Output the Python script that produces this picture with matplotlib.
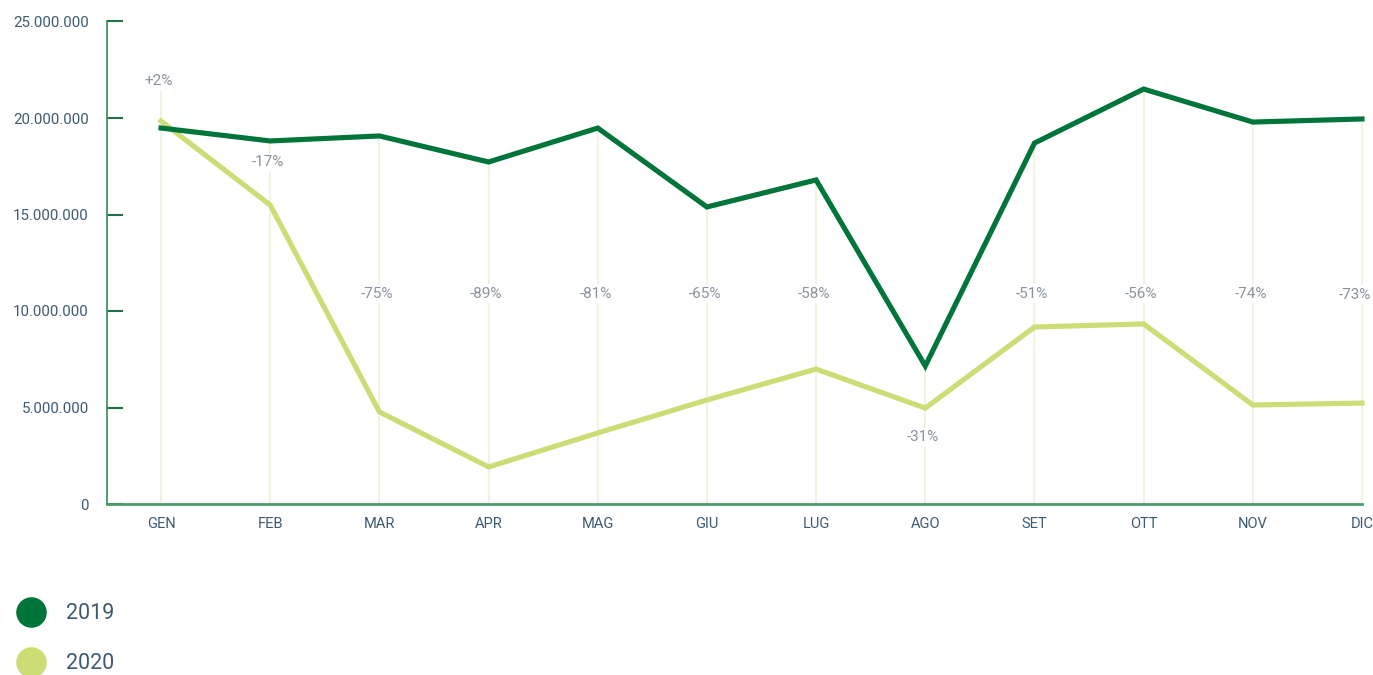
import matplotlib
matplotlib.use("Agg")
import matplotlib.pyplot as plt
from matplotlib.lines import Line2D

months = ["GEN", "FEB", "MAR", "APR", "MAG", "GIU", "LUG", "AGO", "SET", "OTT", "NOV", "DIC"]
values_2019 = [19.48e6, 18.81e6, 19.07e6, 17.72e6, 19.48e6, 15.39e6, 16.79e6, 7.15e6, 18.70e6, 21.50e6, 19.79e6, 19.95e6]
values_2020 = [19.84e6, 15.49e6, 4.77e6, 1.92e6, 3.68e6, 5.39e6, 6.99e6, 4.97e6, 9.17e6, 9.33e6, 5.13e6, 5.23e6]
pct_labels = ["+2%", "-17%", "-75%", "-89%", "-81%", "-65%", "-58%", "-31%", "-51%", "-56%", "-74%", "-73%"]
yticks = [0, 5e6, 10e6, 15e6, 20e6, 25e6]
ytick_labels = ["0", "5.000.000", "10.000.000", "15.000.000", "20.000.000", "25.000.000"]

# label anchor heights (layout)
label_y = [21.9e6, 17.7e6, 10.9e6, 10.9e6, 10.9e6, 10.9e6, 10.9e6, 3.45e6, 10.9e6, 10.9e6, 10.9e6, 10.85e6]

C19 = "#00753a"
C20 = "#cddc75"
GRID = "#eef4e2"
TXT = "#3d5a73"
PCT = "#8a939d"

plt.rcParams['font.family'] = ['Roboto', 'DejaVu Sans']

fig = plt.figure(figsize=(13.73, 6.75), dpi=100)
ax = fig.add_axes([107/1373, 1-504/675, (1362-107)/1373, (504-21.5)/675])

x = list(range(len(months)))
for i in x:
    top = max(values_2019[i], values_2020[i], label_y[i])
    ax.plot([i, i], [0, top], color=GRID, lw=1.5, zorder=1, clip_on=False)

ax.plot(x, values_2020, color=C20, lw=3.7, solid_joinstyle='miter', zorder=3, clip_on=False)
ax.plot(x, values_2019, color=C19, lw=3.7, solid_joinstyle='miter', zorder=4, clip_on=False)

last = len(x) - 1
for i in x:
    if i == last:
        xpos, ha = i + 0.085, 'right'
    else:
        xpos, ha = i - 0.02, 'center'
    ax.text(xpos, label_y[i], pct_labels[i], ha=ha, va='center', fontsize=11,
            color=PCT, zorder=2, clip_on=False,
            bbox=dict(boxstyle='square,pad=0.15', fc='white', ec='none'))

ax.set_xlim(-0.495, 11)
ax.set_ylim(0, 25e6)
ax.set_xticks(x)
ax.set_xticklabels(months)
ax.set_yticks(yticks)
ax.set_yticklabels(ytick_labels)

ax.tick_params(axis='x', length=0, pad=9, labelsize=10.5, labelcolor=TXT)
ax.tick_params(axis='y', direction='in', length=11.5, width=1.5, color="#1f7445",
               pad=13, labelsize=10.8, labelcolor=TXT)

for s in ['top', 'right']:
    ax.spines[s].set_visible(False)
ax.spines['left'].set_color("#2f8a55")
ax.spines['left'].set_linewidth(1.2)
ax.spines['bottom'].set_color("#4c9d6e")
ax.spines['bottom'].set_linewidth(2)

handles = [Line2D([], [], marker='o', ls='none', markersize=22, color=C19, markeredgewidth=0),
           Line2D([], [], marker='o', ls='none', markersize=22, color=C20, markeredgewidth=0)]
fig.legend(handles, ["2019", "2020"], loc='upper left', bbox_to_anchor=(11/1373, 1-597/675),
           frameon=False, fontsize=15.5, labelcolor=TXT, handletextpad=0.97,
           labelspacing=1.33, borderaxespad=0, borderpad=0.3, handlelength=1.3)

fig.savefig("out.png", dpi=100)
